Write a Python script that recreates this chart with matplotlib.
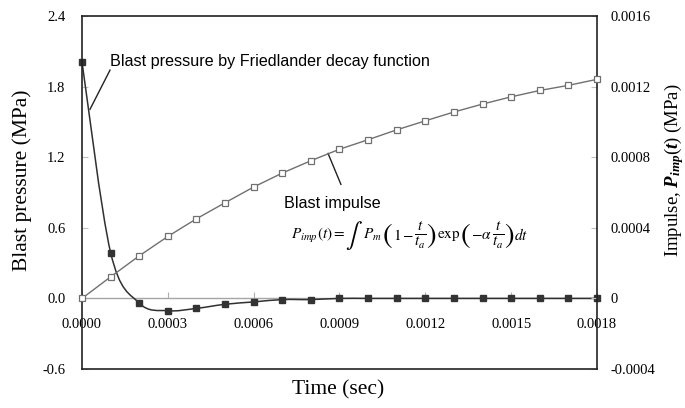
import numpy as np
import matplotlib
matplotlib.use("Agg")
import matplotlib.pyplot as plt
from matplotlib.path import Path
from matplotlib.patches import PathPatch
from matplotlib.offsetbox import TextArea, HPacker, AnnotationBbox

plt.rcParams['font.family'] = 'Liberation Serif'
plt.rcParams['mathtext.fontset'] = 'custom'
plt.rcParams['mathtext.rm'] = 'Liberation Serif'
plt.rcParams['mathtext.it'] = 'Liberation Serif:italic'
plt.rcParams['mathtext.bf'] = 'Liberation Serif:bold:italic'

# waktu (detik)
time = [0.0000, 0.0001, 0.0002, 0.0003, 0.0004, 0.0005, 0.0006, 0.0007, 0.0008, 0.0009,
        0.0010, 0.0011, 0.0012, 0.0013, 0.0014, 0.0015, 0.0016, 0.0017, 0.0018]
# tekanan ledakan (MPa)
pressure = [2.01, 0.39, -0.04, -0.105, -0.085, -0.05, -0.03, -0.01, -0.01, 0.0,
            0.0, 0.0, 0.0, 0.0, 0.0, 0.0, 0.0, 0.0, 0.0]
# impuls (MPa)
impulse = [0.0, 0.000122, 0.000241, 0.000351, 0.000451, 0.000542, 0.000631, 0.000710,
           0.000780, 0.000845, 0.000899, 0.000955, 0.001006, 0.001056, 0.001101,
           0.001142, 0.001178, 0.001207, 0.001241]

left_ticks = [-0.6, 0.0, 0.6, 1.2, 1.8, 2.4]
left_labels = ["-0.6", "0.0", "0.6", "1.2", "1.8", "2.4"]
right_ticks = [-0.0004, 0.0, 0.0004, 0.0008, 0.0012, 0.0016]
right_labels = ["-0.0004", "0", "0.0004", "0.0008", "0.0012", "0.0016"]
x_ticks = [0.0, 0.0003, 0.0006, 0.0009, 0.0012, 0.0015, 0.0018]
x_labels = ["0.0000", "0.0003", "0.0006", "0.0009", "0.0012", "0.0015", "0.0018"]


def smooth_path(xs, ys):
    # garis halus ala Excel (Catmull-Rom ke Bezier)
    p = np.column_stack([xs, ys])
    n = len(p)
    verts = [p[0]]
    codes = [Path.MOVETO]
    for i in range(n - 1):
        p0 = p[i - 1] if i > 0 else p[i]
        p3 = p[i + 2] if i + 2 < n else p[i + 1]
        c1 = p[i] + (p[i + 1] - p0) / 6.0
        c2 = p[i + 1] - (p3 - p[i]) / 6.0
        verts += [c1, c2, p[i + 1]]
        codes += [Path.CURVE4] * 3
    return Path(verts, codes)


fig = plt.figure(figsize=(6.85, 4.08), dpi=100)
ax = fig.add_axes([0.1197, 0.0956, 0.7518, 0.8652])
ax2 = ax.twinx()

ax.set_xlim(0, 0.0018)
ax.set_ylim(-0.6, 2.4)
ax2.set_ylim(-0.0004, 0.0016)

# garis nol sebagai sumbu x
ax.spines['bottom'].set_position(('data', 0))
ax.spines['bottom'].set_color('#a6a6a6')
ax.spines['bottom'].set_linewidth(1.0)
for s in ['top', 'left', 'right']:
    ax.spines[s].set_visible(False)
for s in ['top', 'left', 'right', 'bottom']:
    ax2.spines[s].set_color('#222222')
    ax2.spines[s].set_linewidth(1.2)
    ax2.spines[s].set_visible(True)

ax.set_xticks(x_ticks)
ax.set_xticklabels(x_labels, fontsize=10.5)
ax.tick_params(axis='x', direction='in', length=4, color='#b0b0b0', pad=14)
ax.set_yticks(left_ticks)
ax.set_yticklabels(left_labels, fontsize=10.5)
ax.tick_params(axis='y', direction='in', length=4, color='#c0c0c0', pad=12)
ax2.set_yticks(right_ticks)
ax2.set_yticklabels(right_labels, fontsize=10.5)
ax2.tick_params(axis='y', direction='in', length=4, color='#c0c0c0', pad=10)
ax2.tick_params(axis='x', length=0)

# tekanan ledakan
patch = PathPatch(smooth_path(time, pressure), facecolor='none', edgecolor='#303030',
                  lw=1.1, zorder=3)
ax.add_patch(patch)
ax.plot(time, pressure, ls='none', marker='s', ms=4.5, color='#333333', zorder=4,
        clip_on=False)

# impuls
ax2.plot(time, impulse, color='#707070', lw=1.0, marker='s', ms=4.5,
         mfc='white', mec='#707070', mew=0.9, clip_on=False, zorder=5)

# label sumbu
fig.text(338 / 685, 1 - 390 / 408, "Time (sec)", fontsize=15.5, ha='center', va='center')
fig.text(22 / 685, 1 - 180 / 408, "Blast pressure (MPa)", fontsize=15.5,
         rotation=90, ha='center', va='center')
fig.text(674 / 685, 1 - 170 / 408, r"Impulse, $\mathbf{P}_{\mathbf{imp}}(\mathbf{t})$ (MPa)",
         fontsize=13.5, rotation=90, ha='center', va='center')

# anotasi
ax.text(0.0000979, 2.014, "Blast pressure by Friedlander decay function",
        family='Liberation Sans', fontsize=11.6, va='center', ha='left')
ax.plot([0.0000979, 0.000028], [1.94, 1.607], color='#222222', lw=1.0)
ax.text(0.000706, 0.807, "Blast impulse", family='Liberation Sans', fontsize=11.6,
        va='center', ha='left')
ax.plot([0.00086, 0.000905], [1.232, 0.969], color='#222222', lw=1.0)

# rumus impuls, disusun per potongan
mp = dict(math_fontfamily='stix')
pieces = [
    (r"$P_{imp}(t) =$", 11),
    (r"$\int$", 18),
    (r"$P_m$", 11),
    (r"$($", 21),
    (r"$1-$", 11),
    (r"$\frac{t}{t_a}$", 15.5),
    (r"$)$", 21),
    (r"$\mathrm{exp}$", 11),
    (r"$($", 21),
    (r"$-\alpha$", 11),
    (r"$\frac{t}{t_a}$", 15.5),
    (r"$)$", 21),
    (r"$dt$", 11),
]
boxes = [TextArea(s, textprops=dict(fontsize=f, fontweight='light', **mp)) for s, f in pieces]
pack = HPacker(children=boxes, align='center', pad=0, sep=0)
ab = AnnotationBbox(pack, (0.00073, 0.535), xycoords='data', box_alignment=(0, 0.5),
                    frameon=False, pad=0)
ax.add_artist(ab)

fig.savefig("out.png", dpi=100)
